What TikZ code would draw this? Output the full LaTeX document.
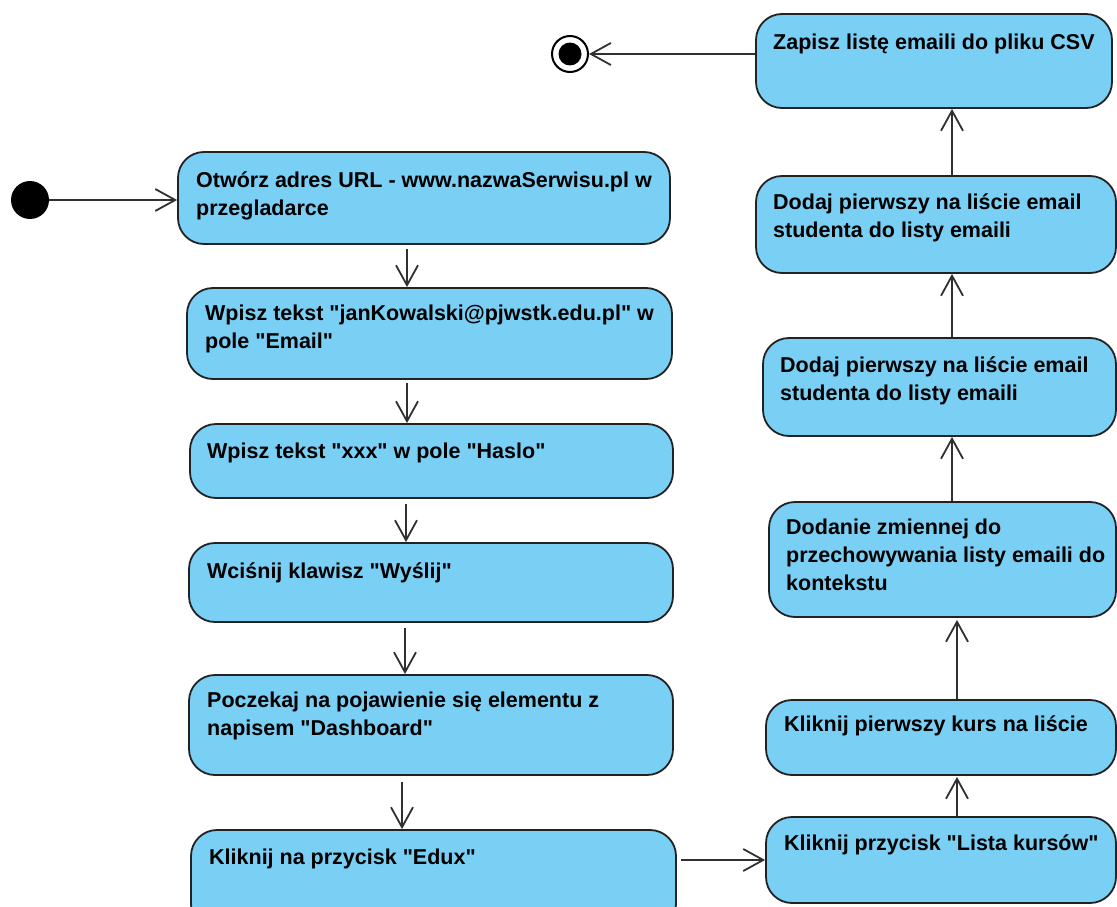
\documentclass[tikz,border=0pt]{standalone}
\usepackage{fontspec}
\setmainfont{Liberation Sans}[Ligatures=TeXOff]
\usetikzlibrary{arrows.meta}
\definecolor{actfill}{RGB}{122,207,245}
\definecolor{edge}{RGB}{34,34,34}
\definecolor{flowline}{RGB}{48,48,48}
\begin{document}
\begin{tikzpicture}[x=1pt,y=-1pt,
  actbox/.style={draw=edge, line width=1.8pt, fill=actfill, rounded corners=26pt, inner sep=0pt},
  acttext/.style={anchor=north west, inner sep=0pt, align=left,
    font=\fontsize{21.5}{28}\selectfont\bfseries},
  flow/.style={draw=flowline, line width=1.8pt,
    -{Straight Barb[length=20pt,width=22pt,line width=1.8pt]}},
  startnode/.style={circle, fill=black, minimum size=38pt, inner sep=0pt},
  endring/.style={circle, draw=black, line width=2pt, fill=white, minimum size=36pt, inner sep=0pt},
  enddot/.style={circle, fill=black, minimum size=23pt, inner sep=0pt}
]
\useasboundingbox (0,0) rectangle (1117,907);
\clip (0,0) rectangle (1117,907);

% left column of actions
\node[actbox, minimum width=492pt, minimum height=92pt] (L1) at (424,198) {};
\node[acttext] (L1t) at (196,167) {\rule{0pt}{20pt}Otwórz adres URL - www.nazwaSerwisu.pl w\\przegladarce};

\node[actbox, minimum width=485pt, minimum height=91pt] (L2) at (429.5,333.5) {};
\node[acttext] (L2t) at (205,300) {\rule{0pt}{20pt}Wpisz tekst "janKowalski@pjwstk.edu.pl" w\\pole "Email"};

\node[actbox, minimum width=483pt, minimum height=74pt] (L3) at (431.5,461) {};
\node[acttext] (L3t) at (207,438) {\rule{0pt}{20pt}Wpisz tekst "xxx" w pole "Haslo"};

\node[actbox, minimum width=484pt, minimum height=79pt] (L4) at (431,582.5) {};
\node[acttext] (L4t) at (207,558) {\rule{0pt}{20pt}Wciśnij klawisz "Wyślij"};

\node[actbox, minimum width=484pt, minimum height=100pt] (L5) at (431,725) {};
\node[acttext] (L5t) at (207,687) {\rule{0pt}{20pt}Poczekaj na pojawienie się elementu z\\napisem "Dashboard"};

\node[actbox, minimum width=485pt, minimum height=100pt] (L6) at (433.5,880) {};
\node[acttext] (L6t) at (209,844) {\rule{0pt}{20pt}Kliknij na przycisk "Edux"};

% right column of actions
\node[actbox, minimum width=356pt, minimum height=94pt] (A) at (934,61) {};
\node[acttext] (At) at (773,29) {\rule{0pt}{20pt}Zapisz listę emaili do pliku CSV};

\node[actbox, minimum width=360pt, minimum height=97pt] (B) at (936,224.5) {};
\node[acttext] (Bt) at (773,189) {\rule{0pt}{20pt}Dodaj pierwszy na liście email\\studenta do listy emaili};

\node[actbox, minimum width=353pt, minimum height=98pt] (C) at (939.5,387) {};
\node[acttext] (Ct) at (780,352) {\rule{0pt}{20pt}Dodaj pierwszy na liście email\\studenta do listy emaili};

\node[actbox, minimum width=347pt, minimum height=115pt] (D) at (942.5,559.5) {};
\node[acttext] (Dt) at (786,514) {\rule{0pt}{20pt}Dodanie zmiennej do\\przechowywania listy emaili do\\kontekstu};

\node[actbox, minimum width=350pt, minimum height=75pt] (E) at (941,737.5) {};
\node[acttext] (Et) at (784,711) {\rule{0pt}{20pt}Kliknij pierwszy kurs na liście};

\node[actbox, minimum width=350pt, minimum height=86pt] (F) at (941,860) {};
\node[acttext] (Ft) at (784,830) {\rule{0pt}{20pt}Kliknij przycisk "Lista kursów"};

% start and end
\node[startnode] (init) at (30,200) {};
\node[endring] (final) at (570,54) {};
\node[enddot] (finaldot) at (final) {};

% control flows
\draw[flow] (init) -- (L1.west |- init);
\draw[flow, shorten <=4pt] (L1.south -| 407,0) -- (L2.north -| 407,0);
\draw[flow, shorten <=3pt] (L2.south -| 407,0) -- (L3.north -| 407,0);
\draw[flow, shorten <=5pt] (L3.south -| 406,0) -- (L4.north -| 406,0);
\draw[flow, shorten <=5pt] (L4.south -| 405,0) -- (L5.north -| 405,0);
\draw[flow, shorten <=6pt] (L5.south -| 402,0) -- (L6.north -| 402,0);
\draw[flow, shorten <=4pt] (L6.east |- 0,860) -- (F.west |- 0,860);
\draw[flow, shorten >=1pt] (F.north -| 957,0) -- (E.south -| 957,0);
\draw[flow, shorten >=2pt] (E.north -| 957,0) -- (D.south -| 957,0);
\draw[flow] (D.north -| 952,0) -- (C.south -| 952,0);
\draw[flow] (C.north -| 952,0) -- (B.south -| 952,0);
\draw[flow] (B.north -| 952,0) -- (A.south -| 952,0);
\draw[flow] (A.west |- final) -- (final);
\end{tikzpicture}
\end{document}
